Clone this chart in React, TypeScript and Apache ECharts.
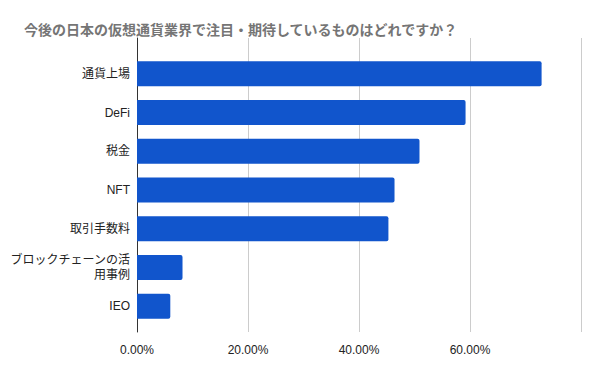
import React, { useEffect, useRef } from "react";
import * as echarts from "echarts";

const titleText = "今後の日本の仮想通貨業界で注目・期待しているものはどれですか？";
const categories = ["通貨上場", "DeFi", "税金", "NFT", "取引手数料", "ブロックチェーンの活用事例", "IEO"];
const values = [72.9, 59.2, 50.9, 46.4, 45.3, 8.2, 6.0];
const xMin = 0;
const xMax = 80;
const xInterval = 20;

const latinFont = "'Liberation Sans', Arial, 'Noto Sans CJK JP', sans-serif";

export default function App() {
  const ref = useRef<HTMLDivElement>(null);
  useEffect(() => {
    if (!ref.current) return;
    const chart = echarts.init(ref.current, null, { renderer: "svg" });
    chart.setOption({
      animation: false,
      backgroundColor: "#ffffff",
      title: {
        text: titleText,
        left: 19,
        top: 17,
        textStyle: {
          fontSize: 14,
          fontWeight: "bold",
          color: "#757575",
          fontFamily: "'Noto Sans CJK JP', sans-serif",
        },
      },
      grid: [
        { left: 137, right: 19, top: 38, bottom: 39, containLabel: false },
        { left: 137, right: 19, top: 54.5, bottom: 45.5, containLabel: false },
      ],
      xAxis: [
        {
          type: "value",
          gridIndex: 0,
          min: xMin,
          max: xMax,
          interval: xInterval,
          axisLine: { show: false },
          axisTick: { show: false },
          splitLine: { show: true, lineStyle: { color: "#cccccc", width: 1 } },
          axisLabel: {
            margin: 12,
            fontSize: 12,
            color: "#222222",
            fontFamily: latinFont,
            formatter: (v: number) => (v >= xMax ? "" : `${v.toFixed(2)}%`),
          },
        },
        {
          type: "value",
          gridIndex: 1,
          min: xMin,
          max: xMax,
          interval: xInterval,
          show: false,
        },
      ],
      yAxis: [
        {
          type: "category",
          gridIndex: 0,
          data: categories,
          inverse: true,
          axisLine: { show: true, lineStyle: { color: "#333333", width: 1 } },
          axisTick: { show: false },
          axisLabel: { show: false },
          splitLine: { show: false },
        },
        {
          type: "category",
          gridIndex: 1,
          data: categories,
          inverse: true,
          axisLine: { show: false },
          axisTick: { show: false },
          splitLine: { show: false },
          axisLabel: {
            margin: 7,
            fontSize: 12,
            lineHeight: 15,
            color: "#222222",
            fontFamily: latinFont,
            formatter: (v: string) => (v.length > 10 ? v.slice(0, 10) + "\n" + v.slice(10) : v),
          },
        },
      ],
      series: [
        {
          type: "bar",
          xAxisIndex: 1,
          yAxisIndex: 1,
          data: values,
          barWidth: 25,
          itemStyle: { color: "#1155cc", borderRadius: [0, 2, 2, 0] },
        },
      ],
    });
    return () => chart.dispose();
  }, []);
  return (
    <div
      ref={ref}
      style={{ position: "fixed", left: 0, top: 0, width: 600, height: 371, background: "#fff" }}
    />
  );
}
